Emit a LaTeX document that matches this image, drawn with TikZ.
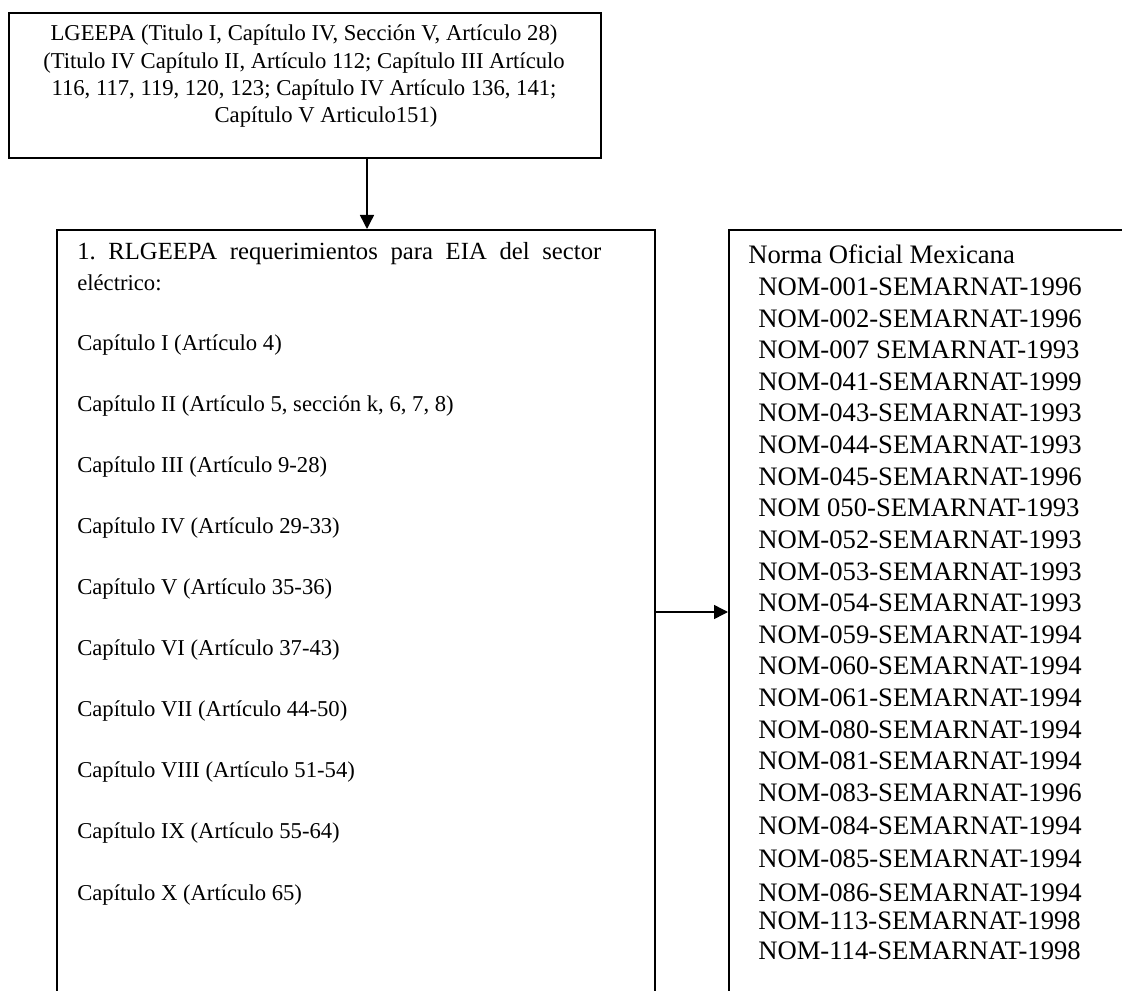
\documentclass[tikz,border=0pt]{standalone}
\usepackage{fontspec}
\setmainfont{Liberation Serif}
\usetikzlibrary{arrows.meta}
\frenchspacing
\begin{document}
\begin{tikzpicture}[x=0.75pt,y=-0.75pt,
  boxline/.style={draw, line width=1.2pt, inner sep=0pt, anchor=north west},
  arr/.style={line width=1.1pt,-{Triangle[length=10.5pt,width=10.5pt]}},
  txt/.style={font=\fontsize{17}{21}\selectfont, inner sep=0pt},
  nomtxt/.style={font=\fontsize{20}{24}\selectfont, inner sep=0pt, anchor=base west}]
\useasboundingbox (0,0) rectangle (1122,991);
\clip (0,0) rectangle (1122,991);
% boxes
\node[boxline, minimum width=444pt, minimum height=108.75pt] (top) at (8,12) {};
\node[boxline, minimum width=448.5pt, minimum height=600pt] (mid) at (56,229) {};
\node[boxline, minimum width=320pt, minimum height=600pt] (right) at (728,229) {};
% top text
\foreach \y/\t [count=\i] in {41/{LGEEPA (Titulo I, Capítulo IV, Sección V, Artículo 28)},
  69/{(Titulo IV Capítulo II, Artículo 112; Capítulo III Artículo},
  96/{116, 117, 119, 120, 123; Capítulo IV Artículo 136, 141;}}
  \node[txt, anchor=base] (t\i) at (304,\y) {\t};
\node[txt, anchor=base] (t4) at (326,123) {Capítulo V Articulo151)};
% middle text
\node[txt, anchor=base west] (m0) at (77,260) {\fontsize{18.5}{21}\selectfont\hbox to 393pt{1. RLGEEPA requerimientos para EIA del sector}};
\foreach \y/\t [count=\i] in {
  291/{eléctrico:},
  351/{Capítulo I (Artículo 4)},
  411.5/{Capítulo II (Artículo 5, sección k, 6, 7, 8)},
  472.5/{Capítulo III (Artículo 9-28)},
  533.5/{Capítulo IV (Artículo 29-33)},
  594.5/{Capítulo V (Artículo 35-36)},
  655.5/{Capítulo VI (Artículo 37-43)},
  716.5/{Capítulo VII (Artículo 44-50)},
  777.5/{Capítulo VIII (Artículo 51-54)},
  838.5/{Capítulo IX (Artículo 55-64)},
  900/{Capítulo X (Artículo 65)}}
  \node[txt, anchor=base west] (m\i) at (77,\y) {\t};
% right text
\node[nomtxt] (norma) at (748,264) {Norma Oficial Mexicana};
\foreach \y/\t [count=\i] in {295.6/{NOM-001-SEMARNAT-1996},
  327.2/{NOM-002-SEMARNAT-1996},
  358.8/{NOM-007 SEMARNAT-1993},
  390.4/{NOM-041-SEMARNAT-1999},
  422/{NOM-043-SEMARNAT-1993},
  453.6/{NOM-044-SEMARNAT-1993},
  485.2/{NOM-045-SEMARNAT-1996},
  516.8/{NOM 050-SEMARNAT-1993},
  548.4/{NOM-052-SEMARNAT-1993},
  580/{NOM-053-SEMARNAT-1993},
  611.6/{NOM-054-SEMARNAT-1993},
  643.2/{NOM-059-SEMARNAT-1994},
  674.8/{NOM-060-SEMARNAT-1994},
  706.4/{NOM-061-SEMARNAT-1994},
  738/{NOM-080-SEMARNAT-1994},
  769.6/{NOM-081-SEMARNAT-1994},
  801.2/{NOM-083-SEMARNAT-1996},
  834/{NOM-084-SEMARNAT-1994},
  867/{NOM-085-SEMARNAT-1994},
  901/{NOM-086-SEMARNAT-1994},
  929/{NOM-113-SEMARNAT-1998},
  959/{NOM-114-SEMARNAT-1998}}
  \node[nomtxt] (nom\i) at (758,\y) {\t};
% connectors
\coordinate (a1) at (367,157);
\draw[arr] (top.south -| a1) -- (mid.north -| a1);
\coordinate (a2) at (654,612);
\draw[arr] (mid.east |- a2) -- (right.west |- a2);
\end{tikzpicture}
\end{document}
